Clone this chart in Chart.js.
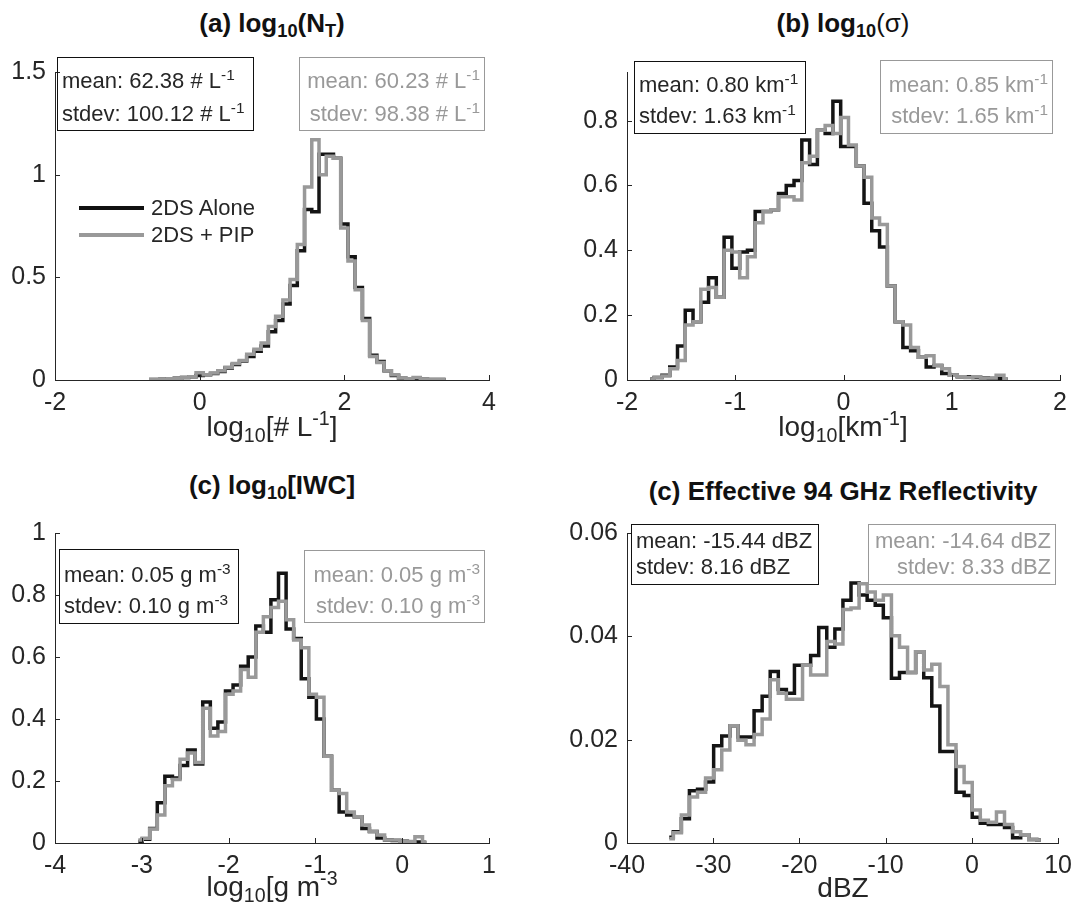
<!DOCTYPE html>
<html>
<head>
<meta charset="utf-8">
<script src="https://cdn.jsdelivr.net/npm/chart.js@4.4.0/dist/chart.umd.min.js"></script>
<style>
  html, body { margin: 0; padding: 0; background: #fff; overflow: hidden; }
  body { width: 1079px; height: 915px; position: relative; font-family: "Liberation Sans", Arial, sans-serif; color: #262626; }
  canvas { position: absolute; }
  .t { position: absolute; white-space: nowrap; line-height: 1; }
  .title { font-weight: bold; font-size: 26px; transform: translateX(-50%); color: #111; }
  .xlab { font-size: 28px; transform: translateX(-50%); }
  sub { font-size: 0.7em; vertical-align: -0.3em; line-height: 0; }
  sup { font-size: 0.7em; vertical-align: 0.55em; line-height: 0; }
  .box { position: absolute; border: 1px solid #111; box-sizing: border-box; }
  .box.gray { border-color: #999; color: #999; }
  .box .t { font-size: 22px; }
  .sw { position: absolute; height: 4px; }
</style>
</head>
<body>
<canvas id="cA"></canvas>
<canvas id="cB"></canvas>
<canvas id="cC"></canvas>
<canvas id="cD"></canvas>

<!-- titles -->
<div class="t title" style="left:272px;top:10px">(a) log<sub>10</sub>(N<sub>T</sub>)</div>
<div class="t title" style="left:843px;top:10px">(b) log<sub>10</sub><span style="font-weight:normal">(σ)</span></div>
<div class="t title" style="left:272px;top:472px">(c) log<sub>10</sub>[IWC]</div>
<div class="t title" style="left:843px;top:478px">(c) Effective 94 GHz Reflectivity</div>

<!-- axis labels -->
<div class="t xlab" style="left:272px;top:413px">log<sub>10</sub>[# L<sup>-1</sup>]</div>
<div class="t xlab" style="left:843px;top:413px">log<sub>10</sub>[km<sup>-1</sup>]</div>
<div class="t xlab" style="left:272px;top:873px">log<sub>10</sub>[g m<sup>-3</sup></div>
<div class="t xlab" style="left:843px;top:874px">dBZ</div>

<!-- legend in panel a -->
<div class="sw" style="left:79px;top:206px;width:65px;background:#111"></div>
<div class="sw" style="left:79px;top:233px;width:65px;background:#999"></div>
<div class="t" style="left:151px;top:197px;font-size:22px">2DS Alone</div>
<div class="t" style="left:151px;top:224px;font-size:22px">2DS + PIP</div>

<!-- stats boxes -->
<div class="box" style="left:57px;top:57px;width:197px;height:74px">
  <div class="t" style="left:4px;top:12px">mean: 62.38 # L<sup>-1</sup></div>
  <div class="t" style="left:4px;top:45px">stdev: 100.12 # L<sup>-1</sup></div>
</div>
<div class="box gray" style="left:299px;top:57px;width:186px;height:74px">
  <div class="t" style="right:4px;top:12px">mean: 60.23 # L<sup>-1</sup></div>
  <div class="t" style="right:4px;top:45px">stdev: 98.38 # L<sup>-1</sup></div>
</div>
<div class="box" style="left:634px;top:61px;width:172px;height:73px">
  <div class="t" style="left:4px;top:12px">mean: 0.80 km<sup>-1</sup></div>
  <div class="t" style="left:4px;top:43px">stdev: 1.63 km<sup>-1</sup></div>
</div>
<div class="box gray" style="left:880px;top:60px;width:173px;height:74px">
  <div class="t" style="right:4px;top:13px">mean: 0.85 km<sup>-1</sup></div>
  <div class="t" style="right:4px;top:44px">stdev: 1.65 km<sup>-1</sup></div>
</div>
<div class="box" style="left:59px;top:549px;width:180px;height:75px">
  <div class="t" style="left:4px;top:14px">mean: 0.05 g m<sup>-3</sup></div>
  <div class="t" style="left:4px;top:45px">stdev: 0.10 g m<sup>-3</sup></div>
</div>
<div class="box gray" style="left:304px;top:550px;width:181px;height:73px">
  <div class="t" style="right:4px;top:13px">mean: 0.05 g m<sup>-3</sup></div>
  <div class="t" style="right:4px;top:44px">stdev: 0.10 g m<sup>-3</sup></div>
</div>
<div class="box" style="left:631px;top:524px;width:188px;height:61px">
  <div class="t" style="left:4px;top:5px">mean: -15.44 dBZ</div>
  <div class="t" style="left:4px;top:31px">stdev: 8.16 dBZ</div>
</div>
<div class="box gray" style="left:868px;top:524px;width:188px;height:61px">
  <div class="t" style="right:4px;top:5px">mean: -14.64 dBZ</div>
  <div class="t" style="right:4px;top:31px">stdev: 8.33 dBZ</div>
</div>

<script>
// === (a) log10(NT) ===
const ntBins  = [-0.7, -0.6, -0.5, -0.4, -0.3, -0.2, -0.1, 0.0, 0.1, 0.2, 0.3, 0.4, 0.5, 0.6, 0.7, 0.8, 0.9, 1.0, 1.1, 1.2, 1.3,
                 1.4, 1.5, 1.6, 1.7, 1.8, 1.9, 2.0, 2.1, 2.2, 2.3, 2.4, 2.5, 2.6, 2.7, 2.8, 2.9, 3.0, 3.1, 3.2, 3.3, 3.4];
const ntAlone = [0.002, 0.003, 0.004, 0.006, 0.008, 0.012, 0.016, 0.022, 0.026, 0.032, 0.042, 0.058, 0.075, 0.092, 0.115, 0.14, 0.165, 0.235, 0.29, 0.37, 0.46,
                 0.63, 0.83, 0.82, 1.10, 1.10, 1.08, 0.76, 0.60, 0.45, 0.30, 0.12, 0.09, 0.045, 0.022, 0.008, 0.005, 0.004, 0.004, 0.003, 0.003, 0.002];
const ntPip   = [0.002, 0.003, 0.004, 0.006, 0.008, 0.012, 0.016, 0.035, 0.026, 0.034, 0.045, 0.062, 0.08, 0.095, 0.125, 0.15, 0.18, 0.26, 0.31, 0.39, 0.49,
                 0.66, 0.94, 1.17, 1.00, 1.09, 1.08, 0.74, 0.58, 0.44, 0.29, 0.115, 0.085, 0.045, 0.025, 0.01, 0.006, 0.012, 0.004, 0.003, 0.003, 0.002];
const ntXTicks = [-2, 0, 2, 4];
const ntYTicks = [0, 0.5, 1, 1.5];

// === (b) log10(sigma) ===
const sigBins  = [-1.785, -1.713, -1.641, -1.569, -1.498, -1.426, -1.354, -1.282, -1.211, -1.139, -1.067, -0.995, -0.923, -0.852, -0.780, -0.708,
                  -0.636, -0.565, -0.493, -0.421, -0.349, -0.277, -0.205, -0.134, -0.062, 0.010, 0.082, 0.154, 0.225, 0.297, 0.369, 0.441,
                  0.513, 0.584, 0.656, 0.728, 0.800, 0.872, 0.943, 1.015, 1.087, 1.159, 1.231, 1.302, 1.374, 1.446, 1.518];
const sigAlone = [0.003, 0.008, 0.015, 0.04, 0.105, 0.215, 0.18, 0.24, 0.315, 0.255, 0.44, 0.345, 0.395, 0.40, 0.52, 0.52,
                  0.525, 0.575, 0.60, 0.615, 0.74, 0.665, 0.77, 0.76, 0.86, 0.72, 0.72, 0.66, 0.545, 0.46, 0.41, 0.29,
                  0.18, 0.10, 0.09, 0.07, 0.04, 0.045, 0.02, 0.015, 0.01, 0.01, 0.008, 0.007, 0.005, 0.004, 0.002];
const sigPip   = [0.003, 0.008, 0.012, 0.035, 0.06, 0.17, 0.18, 0.28, 0.285, 0.255, 0.40, 0.395, 0.315, 0.38, 0.485, 0.52,
                  0.525, 0.565, 0.565, 0.555, 0.67, 0.69, 0.77, 0.785, 0.76, 0.81, 0.725, 0.66, 0.625, 0.50, 0.48, 0.29,
                  0.18, 0.17, 0.10, 0.07, 0.075, 0.045, 0.035, 0.015, 0.01, 0.008, 0.01, 0.006, 0.006, 0.015, 0.004];
const sigXTicks = [-2, -1, 0, 1, 2];
const sigYTicks = [0, 0.2, 0.4, 0.6, 0.8];

// === (c) log10[IWC] ===
const iwcBins  = [-3.040, -2.953, -2.865, -2.778, -2.691, -2.603, -2.516, -2.429, -2.342, -2.254, -2.167, -2.080, -1.992,
                  -1.905, -1.818, -1.730, -1.643, -1.556, -1.469, -1.381, -1.294, -1.207, -1.119, -1.032, -0.945, -0.857,
                  -0.770, -0.683, -0.596, -0.508, -0.421, -0.334, -0.246, -0.159, -0.072, 0.016, 0.103, 0.190, 0.278];
const iwcAlone = [0.005, 0.012, 0.047, 0.13, 0.215, 0.21, 0.25, 0.30, 0.255, 0.455, 0.37, 0.39, 0.49,
                  0.51, 0.57, 0.60, 0.70, 0.68, 0.785, 0.87, 0.69, 0.66, 0.53, 0.47, 0.40, 0.28,
                  0.17, 0.10, 0.09, 0.085, 0.047, 0.037, 0.016, 0.01, 0.008, 0.006, 0.004, 0.003, 0.002];
const iwcPip   = [0.01, 0.015, 0.045, 0.09, 0.185, 0.205, 0.27, 0.29, 0.26, 0.435, 0.345, 0.36, 0.48,
                  0.49, 0.56, 0.535, 0.68, 0.73, 0.76, 0.78, 0.72, 0.655, 0.63, 0.48, 0.47, 0.28,
                  0.17, 0.16, 0.10, 0.085, 0.058, 0.037, 0.026, 0.01, 0.01, 0.005, 0.005, 0.02, 0.003];
const iwcXTicks = [-4, -3, -2, -1, 0, 1];
const iwcYTicks = [0, 0.2, 0.4, 0.6, 0.8, 1];

// === (d) effective 94 GHz reflectivity ===
const dbzBins  = [-35.10, -34.16, -33.23, -32.29, -31.35, -30.42, -29.48, -28.54, -27.60, -26.67, -25.73, -24.79, -23.86, -22.92, -21.98, -21.05,
                  -20.11, -19.17, -18.23, -17.30, -16.36, -15.42, -14.49, -13.55, -12.61, -11.68, -10.74, -9.80, -8.86, -7.93, -6.99, -6.05,
                  -5.12, -4.18, -3.24, -2.31, -1.37, -0.43, 0.51, 1.44, 2.38, 3.32, 4.25, 5.19, 6.13, 7.07, 8.00];
const dbzAlone = [0.0011, 0.0022, 0.0047, 0.0101, 0.0104, 0.0118, 0.0188, 0.0207, 0.0227, 0.0205, 0.0205, 0.0256, 0.0284, 0.0332, 0.0297, 0.0290,
                  0.0344, 0.0344, 0.0363, 0.0417, 0.0379, 0.0414, 0.0470, 0.0503, 0.0480, 0.0470, 0.0460, 0.0436, 0.0319, 0.0330, 0.0330, 0.0370,
                  0.0320, 0.0265, 0.0177, 0.0177, 0.0098, 0.0092, 0.0050, 0.0038, 0.0036, 0.0036, 0.0030, 0.0010, 0.0016, 0.0007, 0.0006];
const dbzPip   = [0.0008, 0.0020, 0.0054, 0.0089, 0.0098, 0.0126, 0.0142, 0.0180, 0.0227, 0.0199, 0.0190, 0.0210, 0.0240, 0.0316, 0.0290, 0.0278,
                  0.0278, 0.0344, 0.0325, 0.0325, 0.0390, 0.0385, 0.0452, 0.0455, 0.0502, 0.0486, 0.0470, 0.0480, 0.0401, 0.0379, 0.0330, 0.0370,
                  0.0335, 0.0346, 0.0303, 0.0190, 0.0148, 0.0117, 0.0064, 0.0044, 0.0040, 0.0060, 0.0036, 0.0022, 0.0016, 0.0007, 0.0006];
const dbzXTicks = [-40, -30, -20, -10, 0, 10];
const dbzYTicks = [0, 0.02, 0.04, 0.06];

const FONT = '"Liberation Sans", Arial, sans-serif';
const AXIS = '#262626';

// MATLAB style ticks point into the plot
const innerTicks = {
  id: 'innerTicks',
  afterDraw(chart) {
    const { ctx, chartArea, scales } = chart;
    ctx.save();
    ctx.strokeStyle = AXIS;
    ctx.lineWidth = 1;
    ctx.beginPath();
    scales.x.ticks.forEach(t => {
      const px = Math.round(scales.x.getPixelForValue(t.value)) + 0.5;
      ctx.moveTo(px, chartArea.bottom);
      ctx.lineTo(px, chartArea.bottom - 5);
    });
    scales.y.ticks.forEach(t => {
      const py = Math.round(scales.y.getPixelForValue(t.value)) + 0.5;
      ctx.moveTo(chartArea.left, py);
      ctx.lineTo(chartArea.left + 5, py);
    });
    ctx.stroke();
    ctx.restore();
  }
};

// plot area (page pixels) -> canvas placed around it
function drawPanel(id, box, bins, alone, pip, xMin, xMax, yMax, xTicks, yTicks) {
  const yAxisW = 66, padTop = 15, padRight = 20, xAxisH = 45;
  const canvas = document.getElementById(id);
  canvas.width = (box.r - box.l) + yAxisW + padRight;
  canvas.height = (box.b - box.t) + padTop + xAxisH;
  canvas.style.left = (box.l - yAxisW) + 'px';
  canvas.style.top = (box.t - padTop) + 'px';

  const tickFont = { family: FONT, size: 25 };

  new Chart(canvas.getContext('2d'), {
    type: 'line',
    data: {
      datasets: [
        {
          label: '2DS + PIP',
          data: bins.map((x, i) => ({ x: x, y: pip[i] })),
          borderColor: '#999999',
          borderWidth: 3.5,
          stepped: 'middle',
          pointRadius: 0,
          fill: false,
          order: 0
        },
        {
          label: '2DS Alone',
          data: bins.map((x, i) => ({ x: x, y: alone[i] })),
          borderColor: '#141414',
          borderWidth: 3.5,
          stepped: 'middle',
          pointRadius: 0,
          fill: false,
          order: 1
        }
      ]
    },
    options: {
      responsive: false,
      animation: false,
      events: [],
      layout: { padding: { top: padTop, right: padRight, left: 0, bottom: 0 } },
      plugins: { legend: { display: false }, tooltip: { enabled: false } },
      scales: {
        x: {
          type: 'linear',
          min: xMin,
          max: xMax,
          grid: { display: false, drawTicks: false },
          border: { display: true, color: AXIS, width: 1 },
          ticks: { font: tickFont, color: AXIS, padding: 8, maxRotation: 0, autoSkip: false, callback: v => String(v) },
          afterBuildTicks: ax => { ax.ticks = xTicks.map(v => ({ value: v })); },
          afterFit: ax => { ax.height = xAxisH; }
        },
        y: {
          type: 'linear',
          min: 0,
          max: yMax,
          grid: { display: false, drawTicks: false },
          border: { display: true, color: AXIS, width: 1 },
          ticks: { font: tickFont, color: AXIS, padding: 9, autoSkip: false, callback: v => String(v) },
          afterBuildTicks: ax => { ax.ticks = yTicks.map(v => ({ value: v })); },
          afterFit: ax => { ax.width = yAxisW; }
        }
      }
    },
    plugins: [innerTicks]
  });
}

drawPanel('cA', { l: 55, r: 489, t: 63, b: 380 }, ntBins, ntAlone, ntPip, -2, 4, 1.5, ntXTicks, ntYTicks);
drawPanel('cB', { l: 627, r: 1060, t: 63, b: 380 }, sigBins, sigAlone, sigPip, -2, 2, 0.95, sigXTicks, sigYTicks);
drawPanel('cC', { l: 55, r: 489, t: 524, b: 843 }, iwcBins, iwcAlone, iwcPip, -4, 1, 1, iwcXTicks, iwcYTicks);
drawPanel('cD', { l: 627, r: 1060, t: 524, b: 843 }, dbzBins, dbzAlone, dbzPip, -40, 10, 0.06, dbzXTicks, dbzYTicks);
</script>
</body>
</html>
